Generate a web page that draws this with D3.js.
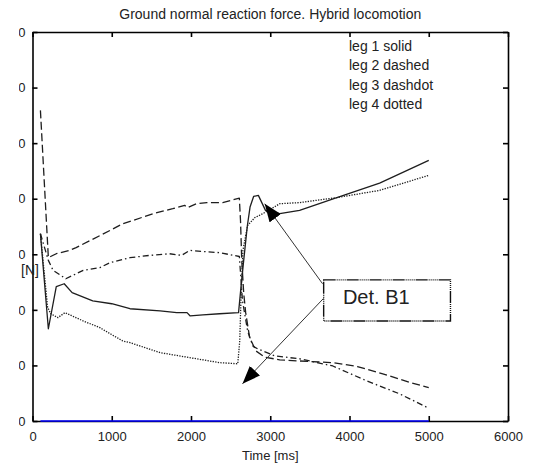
<!DOCTYPE html>
<html>
<head>
<meta charset="utf-8">
<script src="https://cdn.jsdelivr.net/npm/d3@7/dist/d3.min.js"></script>
<style>
  body { margin: 0; background: #fff; }
  svg { display: block; }
  text { font-family: "Liberation Sans", Arial, Helvetica, sans-serif; fill: #222; }
</style>
</head>
<body>
<svg id="chart" width="537" height="465"></svg>
<script>
// ---- data ----
const chartTitle = "Ground normal reaction force. Hybrid locomotion";
const xLabel = "Time [ms]";
const yLabel = "[N]";
const xTicks = [0, 1000, 2000, 3000, 4000, 5000, 6000];
const yTicks = [0, 100, 200, 300, 400, 500, 600, 700];
const legendLabels = ["leg 1 solid", "leg 2 dashed", "leg 3 dashdot", "leg 4 dotted"];

// [time ms, force N]
const leg1 = [[100,337],[200,166],[300,242],[400,247],[500,231],[760,216],[1000,211],[1230,202],[1610,198],[1820,195],[1950,195],[1990,189],[2150,191],[2360,193],[2600,195],[2630,240],[2665,289],[2710,350],[2745,385],[2790,404],[2850,406],[2940,379],[3120,373],[3370,379],[3840,402],[4380,428],[5000,469]];
const leg2 = [[100,559],[200,294],[300,301],[470,307],[550,312],[980,343],[1140,355],[1270,361],[1520,373],[1770,382],[1920,388],[1960,384],[2070,391],[2200,393],[2400,393],[2610,401],[2625,360],[2640,290],[2665,230],[2690,195],[2740,150],[2820,126],[2930,115],[3120,110],[3370,108],[3790,105],[4100,98],[4420,85],[4750,70],[5000,60]];
const leg3 = [[100,337],[200,289],[260,271],[420,256],[640,271],[850,276],[980,285],[1230,294],[1480,298],[1730,301],[1880,298],[1985,307],[2150,305],[2360,303],[2610,296],[2650,216],[2715,162],[2780,135],[2840,130],[3060,117],[3370,112],[3790,99],[4220,72],[4630,49],[5000,23]];
const leg4 = [[100,337],[190,205],[230,193],[320,186],[410,195],[640,180],[850,168],[980,157],[1140,144],[1230,141],[1610,123],[1985,114],[2360,105],[2590,103],[2615,144],[2630,216],[2655,307],[2715,352],[2805,366],[2905,373],[3120,391],[3370,393],[3840,402],[4380,415],[5000,442]];
const zeroLine = [[100,0],[5000,0]];

// annotation (data coordinates)
const noteText = "Det. B1";
const noteBox = { t0: 3674, t1: 5274, v0: 180, v1: 254 };
const noteTextAt = [3917, 211];
const noteArrows = [
  { from: [3660, 247], to: [2930, 391] },
  { from: [3675, 221], to: [2650, 67] }
];

// ---- layout ----
const svg = d3.select("#chart");
const padL = 32.5, padR = 508, padT = 32, padB = 421;
const x = d3.scaleLinear().domain([0, 6000]).range([padL, padR]);
const y = d3.scaleLinear().domain([0, 700]).range([padB, padT]);

const ink = "#1e1e1e";

// title
svg.append("text")
  .attr("x", (padL + padR) / 2).attr("y", 19)
  .attr("text-anchor", "middle").attr("font-size", 14)
  .text(chartTitle);

// left-hand tick labels run off the page edge
const defs = svg.append("defs");
defs.append("clipPath").attr("id", "leftEdge")
  .append("rect").attr("x", -13.5).attr("y", -10).attr("width", 600).attr("height", 500);

// series
const line = d3.line().x(d => x(d[0])).y(d => y(d[1]));
const series = [
  { data: leg1, dash: null },
  { data: leg2, dash: "8,3.5" },
  { data: leg3, dash: "6,3,1.5,3" },
  { data: leg4, dash: "1.3,1.3" }
];
const plot = svg.append("g");
series.forEach(s => {
  plot.append("path")
    .attr("d", line(s.data))
    .attr("fill", "none")
    .attr("stroke", ink)
    .attr("stroke-width", 1.3)
    .attr("stroke-dasharray", s.dash)
    .attr("stroke-linejoin", "round");
});

// axes (inward ticks, boxed)
const axisStyle = g => {
  g.selectAll(".domain").attr("stroke", "#000").attr("stroke-width", 1.6);
  g.selectAll(".tick line").attr("stroke", "#000").attr("stroke-width", 1.6);
  g.selectAll(".tick text").attr("font-size", 13).attr("fill", "#222")
    .style("font-family", '"Liberation Sans", Arial, Helvetica, sans-serif');
};
svg.append("g").attr("transform", `translate(0,${padB})`)
  .call(d3.axisBottom(x).tickValues(xTicks).tickFormat(d3.format("d"))
    .tickSizeInner(-5).tickSizeOuter(0).tickPadding(11))
  .call(axisStyle);
svg.append("g").attr("transform", `translate(0,${padT})`)
  .call(d3.axisTop(x).tickValues(xTicks).tickSizeInner(-5).tickSizeOuter(0).tickFormat(""))
  .call(axisStyle);
svg.append("g").attr("transform", `translate(${padL},0)`).attr("clip-path", "url(#leftEdge)")
  .call(d3.axisLeft(y).tickValues(yTicks).tickFormat(d3.format("d"))
    .tickSizeInner(-5).tickSizeOuter(0).tickPadding(7))
  .call(axisStyle);
svg.append("g").attr("transform", `translate(${padR},0)`)
  .call(d3.axisRight(y).tickValues(yTicks).tickSizeInner(-5).tickSizeOuter(0).tickFormat(""))
  .call(axisStyle);

// zero reference line
svg.append("path").attr("d", line(zeroLine))
  .attr("fill", "none").attr("stroke", "#0000ff").attr("stroke-width", 1.6);

// axis labels
svg.append("text")
  .attr("x", (padL + padR) / 2).attr("y", 460)
  .attr("text-anchor", "middle").attr("font-size", 13)
  .text(xLabel);
svg.append("text")
  .attr("x", 21).attr("y", 275)
  .attr("font-size", 14)
  .text(yLabel);

// legend text
svg.append("g").selectAll("text").data(legendLabels).join("text")
  .attr("x", 349)
  .attr("y", (d, i) => 51 + i * 19.3)
  .attr("font-size", 14)
  .text(d => d);

// annotation box, text and arrows
defs.append("marker")
  .attr("id", "head").attr("viewBox", "0 0 18 14")
  .attr("refX", 18).attr("refY", 7)
  .attr("markerWidth", 18).attr("markerHeight", 14)
  .attr("markerUnits", "userSpaceOnUse").attr("orient", "auto")
  .append("path").attr("d", "M0,0L18,7L0,14Z").attr("fill", "#000");

noteArrows.forEach(a => {
  svg.append("line")
    .attr("x1", x(a.from[0])).attr("y1", y(a.from[1]))
    .attr("x2", x(a.to[0])).attr("y2", y(a.to[1]))
    .attr("stroke", "#333").attr("stroke-width", 1)
    .attr("marker-end", "url(#head)");
});
svg.append("rect")
  .attr("x", x(noteBox.t0)).attr("y", y(noteBox.v1))
  .attr("width", x(noteBox.t1) - x(noteBox.t0))
  .attr("height", y(noteBox.v0) - y(noteBox.v1))
  .attr("fill", "#fff").attr("stroke", "#111").attr("stroke-width", 1.4)
  .attr("stroke-dasharray", "12,1,1,1,1,1,1,1,1,1,1,1");
svg.append("text")
  .attr("x", x(noteTextAt[0])).attr("y", y(noteTextAt[1]))
  .attr("font-size", 20)
  .text(noteText);
</script>
</body>
</html>
